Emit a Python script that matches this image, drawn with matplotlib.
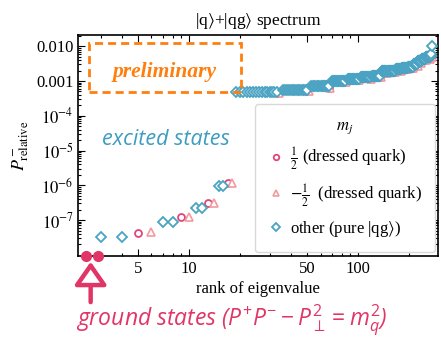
import matplotlib.pyplot as plt
import numpy as np
from matplotlib.ticker import FixedLocator, FixedFormatter, LogLocator, NullFormatter
from matplotlib.patches import Rectangle

plt.rcParams['font.family'] = ['Liberation Serif', 'DejaVu Serif']
plt.rcParams['mathtext.fontset'] = 'stix'
plt.rcParams['mathtext.rm'] = 'Open Sans'
plt.rcParams['mathtext.it'] = 'Open Sans:italic'

# low-lying excited states (rank, relative P^-)
circ_rank = [5, 9, 13, 17]
circ_val = [4.3e-8, 1.2e-7, 3.0e-7, 1.15e-6]
tri_rank = [6, 10, 14, 18]
tri_val = [4.6e-8, 1.25e-7, 3.2e-7, 1.2e-6]
dia_rank = [3, 4, 7, 8, 11, 12, 15, 16]
dia_val = [3.3e-8, 3.3e-8, 9.0e-8, 9.0e-8, 2.3e-7, 2.3e-7, 9.3e-7, 9.3e-7]

# high states: degenerate plateaus of |qg> states
grp_start = [19, 36, 53, 70, 87, 104, 121, 138, 150, 168, 182, 198, 214, 226, 238, 252, 268]
grp_end = [33, 50, 67, 84, 101, 118, 135, 147, 165, 179, 195, 211, 224, 236, 250, 266, 271]
grp_level = [4.8e-4, 5.5e-4, 7.0e-4, 1.0e-3, 1.15e-3, 1.3e-3, 1.4e-3, 1.9e-3, 2.0e-3,
             2.2e-3, 2.4e-3, 2.6e-3, 3.0e-3, 3.8e-3, 4.3e-3, 4.8e-3, 5.3e-3]
top_rank = [272, 273]
top_val = [5.8e-3, 1.05e-2]

# dressed quark states hidden under the plateaus
hi_circ_rank = [33, 50, 67, 84, 101, 118, 135, 147, 165, 179, 195, 211, 224, 236, 250, 266, 273]
hi_circ_val = [4.5e-4, 5.1e-4, 6.5e-4, 9.3e-4, 1.07e-3, 1.2e-3, 1.3e-3, 1.75e-3, 1.85e-3,
               2.05e-3, 2.25e-3, 2.4e-3, 2.8e-3, 3.5e-3, 4.0e-3, 4.5e-3, 5.3e-3]
hi_tri_rank = [34, 51, 68, 85, 102, 119, 136, 148, 166, 180, 196, 212, 225, 237, 251, 267, 273]
hi_tri_val = [4.4e-4, 5.0e-4, 6.4e-4, 9.1e-4, 1.05e-3, 1.18e-3, 1.28e-3, 1.7e-3, 1.8e-3,
              2.0e-3, 2.2e-3, 2.35e-3, 2.75e-3, 3.4e-3, 3.9e-3, 4.4e-3, 5.0e-3]

gs_rank = [2.45, 2.89]

ytick_vals = [1e-2, 1e-3, 1e-4, 1e-5, 1e-6, 1e-7]
ytick_labels = ['0.010', '0.001', r'$10^{-4}$', r'$10^{-5}$', r'$10^{-6}$', r'$10^{-7}$']
xtick_vals = [5, 10, 50, 100]
xtick_labels = ['5', '10', '50', '100']
xminor_vals = [3, 4, 6, 7, 8, 9, 20, 30, 40, 60, 70, 80, 90, 200]

c_circ = '#e2457a'
c_tri = '#f29a9e'
c_dia = '#4aa3c2'
c_gs = '#e03566'
c_exc = '#3d9cc0'
c_orange = '#ff7f0e'

# expand plateaus
all_dia_rank = list(dia_rank)
all_dia_val = list(dia_val)
for s, e, lv in zip(grp_start, grp_end, grp_level):
    r = np.arange(s, e + 1)
    all_dia_rank.extend(r)
    all_dia_val.extend([lv] * len(r))
all_dia_rank += top_rank
all_dia_val += top_val

fig = plt.figure(figsize=(4.41, 3.37), dpi=100)
ax = fig.add_axes([0.178, 0.241, 0.815, 0.655])

h_c, = ax.plot(circ_rank + hi_circ_rank, circ_val + hi_circ_val, 'o', ls='none', ms=5,
               mew=1.3, mec=c_circ, mfc='white', zorder=2, label=r'$\frac{1}{2}$ (dressed quark)')
h_t, = ax.plot(tri_rank + hi_tri_rank, tri_val + hi_tri_val, '^', ls='none', ms=5.5,
               mew=1.2, mec=c_tri, mfc='white', zorder=2, label=r'$-\frac{1}{2}$  (dressed quark)')
h_d, = ax.plot(all_dia_rank, all_dia_val, 'D', ls='none', ms=4.6,
               mew=1.3, mec=c_dia, mfc='white', zorder=3, label=r'other (pure |qg$\rangle$)')

ax.set_xscale('log')
ax.set_yscale('log')
ax.set_xlim(2.22, 297)
ax.set_ylim(9.4e-9, 2.1e-2)

ax.xaxis.set_major_locator(FixedLocator(xtick_vals))
ax.xaxis.set_major_formatter(FixedFormatter(xtick_labels))
ax.xaxis.set_minor_locator(FixedLocator(xminor_vals))
ax.xaxis.set_minor_formatter(NullFormatter())
ax.yaxis.set_major_locator(FixedLocator(ytick_vals))
ax.yaxis.set_major_formatter(FixedFormatter(ytick_labels))
ax.yaxis.set_minor_locator(LogLocator(base=10, subs=np.arange(2, 10), numticks=30))
ax.yaxis.set_minor_formatter(NullFormatter())
ax.tick_params(which='both', direction='in', top=True, right=True, labelsize=12, width=0.8)
ax.tick_params(which='major', length=5)
ax.tick_params(which='minor', length=2.5)
for sp in ax.spines.values():
    sp.set_linewidth(1.2)

ax.set_title(r'|q$\rangle$+|qg$\rangle$ spectrum', fontsize=12.5, pad=7)
ax.set_xlabel('rank of eigenvalue', fontsize=12, labelpad=3)
ax.set_ylabel(r'$P^-_{\rm relative}$', fontsize=13, labelpad=4)

leg = ax.legend(handles=[h_c, h_t, h_d], loc='lower right', bbox_to_anchor=(0.992, 0.017),
                borderaxespad=0, title=r'$m_j$', title_fontsize=12, fontsize=12,
                frameon=True, fancybox=True, edgecolor='#d9d9d9', framealpha=1,
                borderpad=0.8, labelspacing=0.6, handletextpad=0.3, handlelength=1.0,
                markerscale=0.8)

# dashed "preliminary" box
ax.add_patch(Rectangle((0.029, 0.742), 0.423, 0.222, transform=ax.transAxes, fill=False,
                       ec=c_orange, lw=2, ls=(0, (2.9, 1.8)), zorder=4))
ax.text(0.238, 0.832, 'preliminary', transform=ax.transAxes, ha='center', va='center',
        fontsize=15.5, fontweight='bold', fontstyle='italic', color=c_orange)

ax.text(0.243, 0.529, 'excited states', transform=ax.transAxes, ha='center', va='center',
        fontsize=15.5, fontstyle='italic', family='Open Sans', color=c_exc)

# ground states at the bottom edge
xt = ax.get_xaxis_transform()
ax.plot(gs_rank, [0, 0], 'o', ls='none', ms=7, color=c_gs, transform=xt, clip_on=False, zorder=6)
ax.annotate('', xy=(2.62, -0.027), xycoords=xt, xytext=(2.62, -0.21), textcoords=xt,
            arrowprops=dict(arrowstyle='-|>,head_length=1.0,head_width=0.7', lw=3.2,
                            fc='white', ec=c_gs, shrinkA=0, shrinkB=0, mutation_scale=14))
fig.text(0.526, 0.05, r'ground states ($P^{+}P^{-} - P_{\perp}^{2} = m_q^{2}$)',
         ha='center', va='center', fontsize=16.5, fontstyle='italic', family='Open Sans',
         color=c_gs, math_fontfamily='custom')

fig.savefig('out.png', dpi=100)
